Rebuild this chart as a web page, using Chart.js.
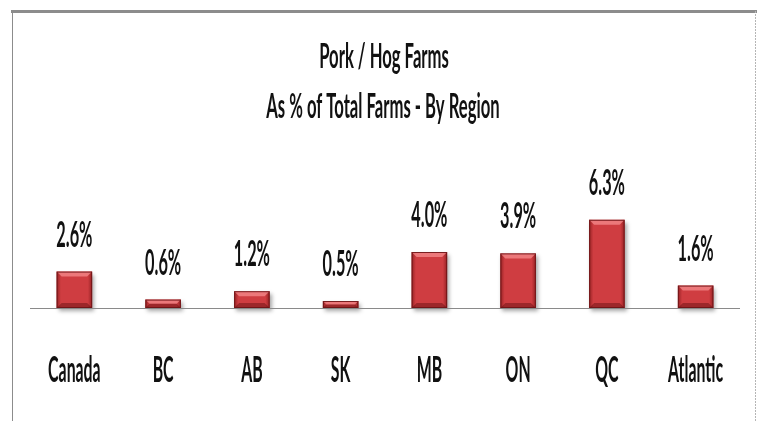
<!DOCTYPE html>
<html>
<head>
<meta charset="utf-8">
<script src="https://cdn.jsdelivr.net/npm/chart.js@4"></script>
<style>
  html, body { margin: 0; padding: 0; background: #fff; }
  #wrap { width: 760px; height: 421px; }
</style>
</head>
<body>
<div id="wrap"><canvas id="hogChart" width="760" height="421"></canvas></div>
<script>
// data
const regions = ["Canada", "BC", "AB", "SK", "MB", "ON", "QC", "Atlantic"];
const hogShare = [2.6, 0.6, 1.2, 0.5, 4.0, 3.9, 6.3, 1.6];
const titleLines = ["Pork / Hog Farms", "As % of Total Farms - By Region"];

// condensed text, like the original Calibri render
function squish(ctx, text, x, y, size, sx) {
    ctx.save();
    ctx.translate(x, y);
    ctx.scale(sx, 1);
    ctx.font = "bold " + size + "px Lato";
    ctx.fillStyle = "#111";
    ctx.textAlign = "center";
    ctx.textBaseline = "alphabetic";
    ctx.fillText(text, 0, 0);
    ctx.restore();
}

const framePlugin = {
    id: "frame",
    beforeDraw(chart) {
        const ctx = chart.ctx;
        ctx.save();
        ctx.fillStyle = "#fff";
        ctx.fillRect(0, 0, chart.width, chart.height);
        ctx.strokeStyle = "#8c8c8c";
        ctx.lineWidth = 3;
        ctx.beginPath();
        ctx.moveTo(11, 11.5);
        ctx.lineTo(757, 11.5);
        ctx.stroke();
        ctx.lineWidth = 1;
        ctx.beginPath();
        ctx.moveTo(12.5, 11);
        ctx.lineTo(12.5, chart.height);
        ctx.stroke();
        ctx.strokeStyle = "#b5b5b5";
        ctx.setLineDash([2, 1]);
        ctx.beginPath();
        ctx.moveTo(755.5, 11);
        ctx.lineTo(755.5, chart.height);
        ctx.stroke();
        ctx.restore();

        // title
        squish(ctx, titleLines[0], 384, 68, 34, 0.49);
        squish(ctx, titleLines[1], 383, 118, 34, 0.49);
    },
    beforeDatasetsDraw(chart) {
        const ctx = chart.ctx;
        ctx.save();
        ctx.shadowColor = "rgba(0,0,0,0.35)";
        ctx.shadowBlur = 4;
        ctx.shadowOffsetX = 2;
        ctx.shadowOffsetY = 3;
    },
    afterDatasetsDraw(chart) {
        const ctx = chart.ctx;
        ctx.restore();
        const meta = chart.getDatasetMeta(0);
        const area = chart.chartArea;

        // bevel on each bar
        meta.data.forEach((bar) => {
            const w = bar.width;
            const l = bar.x - w / 2;
            const r = bar.x + w / 2;
            const t = bar.y;
            const b = bar.base;
            const h = b - t;
            ctx.save();
            const side = ctx.createLinearGradient(l, 0, r, 0);
            side.addColorStop(0, "rgba(80,0,0,0.45)");
            side.addColorStop(0.12, "rgba(80,0,0,0)");
            side.addColorStop(0.88, "rgba(80,0,0,0)");
            side.addColorStop(1, "rgba(80,0,0,0.45)");
            ctx.fillStyle = side;
            ctx.fillRect(l, t, w, h);
            const bev = Math.min(5, h / 2);
            ctx.fillStyle = "rgba(255,160,160,0.6)";
            ctx.beginPath();
            ctx.moveTo(l, t);
            ctx.lineTo(r, t);
            ctx.lineTo(r - bev, t + bev);
            ctx.lineTo(l + bev, t + bev);
            ctx.closePath();
            ctx.fill();
            ctx.fillStyle = "rgba(60,0,0,0.35)";
            ctx.beginPath();
            ctx.moveTo(l, b);
            ctx.lineTo(r, b);
            ctx.lineTo(r - bev, b - bev);
            ctx.lineTo(l + bev, b - bev);
            ctx.closePath();
            ctx.fill();
            ctx.strokeStyle = "rgba(110,20,22,0.9)";
            ctx.lineWidth = 1;
            ctx.strokeRect(l + 0.5, t + 0.5, w - 1, h - 1);
            ctx.restore();
        });

        // baseline
        const y0 = Math.round(chart.scales.y.getPixelForValue(0)) + 0.5;
        ctx.save();
        ctx.strokeStyle = "#8a8a8a";
        ctx.lineWidth = 1;
        ctx.beginPath();
        ctx.moveTo(area.left, y0);
        ctx.lineTo(area.right, y0);
        ctx.stroke();
        ctx.restore();

        // value labels and category labels
        meta.data.forEach((bar, i) => {
            squish(ctx, hogShare[i].toFixed(1) + "%", bar.x, bar.y - 25, 37, 0.44);
            const cx = chart.scales.x.getPixelForValue(i);
            squish(ctx, regions[i], cx, 382, 36, 0.44);
        });
    }
};

const hogCtx = document.getElementById("hogChart").getContext("2d");
new Chart(hogCtx, {
    type: "bar",
    data: {
        labels: regions,
        datasets: [
            {
                data: hogShare,
                backgroundColor: "#cf3d41",
                borderWidth: 0,
                categoryPercentage: 1,
                barPercentage: 0.4,
                clip: false,
            },
        ],
    },
    options: {
        responsive: false,
        animation: false,
        layout: { padding: { left: 30, right: 20, top: 210, bottom: 113 } },
        scales: {
            x: { display: false },
            y: { display: false, min: 0, max: 7 },
        },
        plugins: {
            legend: { display: false },
            tooltip: { enabled: false },
        },
    },
    plugins: [framePlugin],
});
</script>
</body>
</html>
